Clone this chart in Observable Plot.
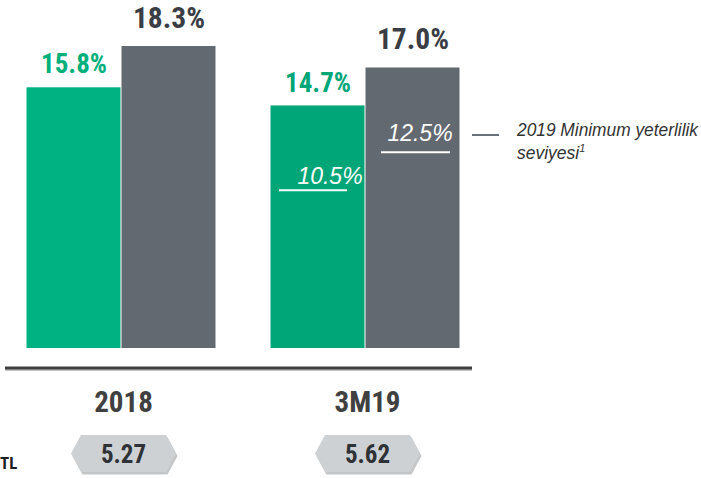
<!DOCTYPE html>
<html>
<head>
<meta charset="utf-8">
<script src="https://cdn.jsdelivr.net/npm/d3@7"></script>
<script src="https://cdn.jsdelivr.net/npm/@observablehq/plot@0.6"></script>
<style>
  html, body { margin: 0; padding: 0; background: #fff; }
  #chart { width: 701px; height: 478px; overflow: hidden; }
  svg { overflow: visible; }
</style>
</head>
<body>
<div id="chart"></div>
<script>
const categories = ["2018", "3M19"];
const series = ["Çekirdek Sermaye Oranı", "Sermaye Yeterlilik Oranı"];
const coreRatio = [15.8, 14.7];
const totalRatio = [18.3, 17.0];
const capitalTL = [5.27, 5.62];
const minLevels = [10.5, 12.5];
const legendLines = ["2019 Minimum yeterlilik", "seviyesi"];
const unitLabel = "TL";

const NARROW = "'Liberation Sans Narrow', 'Arial Narrow', 'Roboto Condensed', sans-serif";
const REG = "'Liberation Sans', Arial, sans-serif";

const core = categories.map((c, i) => ({cat: c, s: series[0], v: coreRatio[i], fill: i === 0 ? "#00b182" : "#00a578", lab: i === 0 ? "#00b07c" : "#00a677"}));
const total = categories.map((c, i) => ({cat: c, s: series[1], v: totalRatio[i], fill: "#636970", lab: "#3a3e44"}));
const bars = core.concat(total);
const mins = [
  {cat: categories[1], s: series[0], v: minLevels[0]},
  {cat: categories[1], s: series[1], v: minLevels[1]}
];
const badges = categories.map((c, i) => ({cat: c, v: capitalTL[i]}));

const hexSymbol = {
  draw(ctx) {
    const w = 52.5, h = 18.5, p = 10;
    ctx.moveTo(-w, 0);
    ctx.lineTo(-w + p, -h);
    ctx.lineTo(w - p, -h);
    ctx.lineTo(w, 0);
    ctx.lineTo(w - p, h);
    ctx.lineTo(-w + p, h);
    ctx.closePath();
  }
};

const pct = d => d.v.toFixed(1) + "%";

const plot = Plot.plot({
  width: 701,
  height: 478,
  marginLeft: 25,
  marginRight: 240,
  marginTop: 0,
  marginBottom: 130,
  style: {background: "transparent", overflow: "visible"},
  fx: {domain: categories, paddingInner: 0.2204, paddingOuter: 0, axis: null},
  x: {domain: series, padding: 0, axis: null},
  y: {domain: [0, 21.09], axis: null},
  marks: [
    Plot.barY(bars, {fx: "cat", x: "s", y: "v", fill: "fill", insetLeft: 0.5, insetRight: 0.5}),
    Plot.text(core, {fx: "cat", x: "s", y: "v", text: pct, fill: "lab",
      fontSize: 27, dy: -23, fontWeight: "bold", fontFamily: NARROW}),
    Plot.text(total, {fx: "cat", x: "s", y: "v", text: pct, fill: "lab",
      fontSize: 29.5, dy: -28, fontWeight: "bold", fontFamily: NARROW}),
    Plot.tickY(mins.slice(0, 1), {fx: "cat", x: "s", y: "v", stroke: "#fff", strokeWidth: 2, insetLeft: 9, insetRight: 18, dy: 15}),
    Plot.tickY(mins.slice(1), {fx: "cat", x: "s", y: "v", stroke: "#fff", strokeWidth: 2, insetLeft: 16, insetRight: 10, dy: 10}),
    Plot.text(mins.slice(0, 1), {fx: "cat", x: "s", y: "v", text: pct, fill: "#fff",
      fontSize: 23, fontStyle: "italic", fontFamily: REG, dx: 12, dy: 1}),
    Plot.text(mins.slice(1), {fx: "cat", x: "s", y: "v", text: pct, fill: "#fff",
      fontSize: 23, fontStyle: "italic", fontFamily: REG, dx: 7, dy: -9}),
    Plot.text(categories, {fx: d => d, text: d => d, frameAnchor: "bottom", lineAnchor: "middle", dx: 2, dy: 54,
      fontSize: 29, fontWeight: "bold", fill: "#404040", fontFamily: NARROW}),
    Plot.dot(badges, {fx: "cat", frameAnchor: "bottom", dx: 3.5, dy: 107.5, symbol: hexSymbol, fill: "#7d8083", fillOpacity: 0.45, stroke: "none"}),
    Plot.dot(badges, {fx: "cat", frameAnchor: "bottom", dx: 2, dy: 105, symbol: hexSymbol, fill: "#cdd1d4", stroke: "none"}),
    Plot.text(badges, {fx: "cat", text: d => d.v.toFixed(2), frameAnchor: "bottom", lineAnchor: "middle", dx: 2, dy: 106,
      fontSize: 25, fontWeight: "bold", fill: "#2e3135", fontFamily: NARROW})
  ]
});

const svg = d3.select(plot);
// axis baseline with soft shadow
svg.append("line").attr("x1", 5).attr("x2", 472).attr("y1", 370).attr("y2", 370)
  .attr("stroke", "#c4c4c4").attr("stroke-width", 2);
svg.append("line").attr("x1", 5).attr("x2", 472).attr("y1", 368).attr("y2", 368)
  .attr("stroke", "#404040").attr("stroke-width", 3);
// unit label
svg.append("text").attr("x", 0).attr("y", 469).attr("text-anchor", "start")
  .attr("font-family", NARROW).attr("font-weight", "bold").attr("font-size", 17)
  .attr("fill", "#1e1e1e").text(unitLabel);
// legend
svg.append("line").attr("x1", 472).attr("x2", 499).attr("y1", 135).attr("y2", 135)
  .attr("stroke", "#6a7077").attr("stroke-width", 2);
const lg = svg.append("text").attr("text-anchor", "start").attr("font-family", REG).attr("font-style", "italic")
  .attr("font-size", 17.5).attr("fill", "#333");
lg.append("tspan").attr("x", 517).attr("y", 136).attr("textLength", 181).attr("lengthAdjust", "spacingAndGlyphs").text(legendLines[0]);
lg.append("tspan").attr("x", 517).attr("y", 159).text(legendLines[1]);
lg.append("tspan").attr("dy", -7).attr("font-size", 11).text("1");

document.getElementById("chart").appendChild(plot);
</script>
</body>
</html>
